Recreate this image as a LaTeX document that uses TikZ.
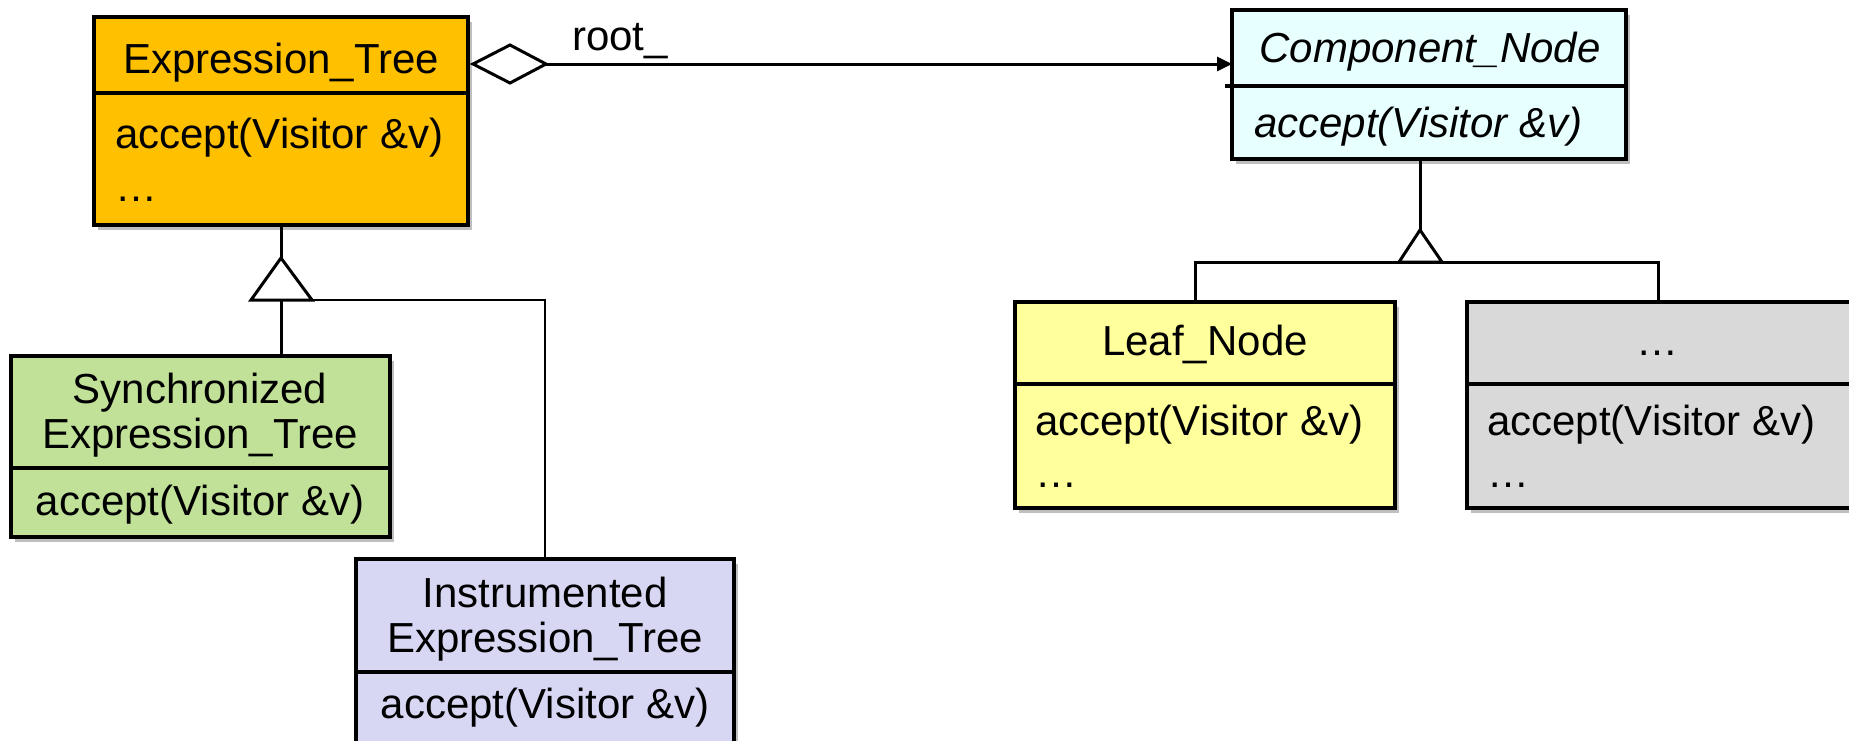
\documentclass[tikz,border=0pt]{standalone}
\usepackage{fontspec}
\setmainfont{Liberation Sans}
\usetikzlibrary{arrows.meta,shadows}
\definecolor{etcol}{RGB}{255,192,0}
\definecolor{synccol}{RGB}{193,225,152}
\definecolor{instcol}{RGB}{215,215,244}
\definecolor{cncol}{RGB}{232,255,255}
\definecolor{leafcol}{RGB}{255,255,155}
\definecolor{othcol}{RGB}{217,217,217}
\begin{document}
\begin{tikzpicture}[x=1pt,y=-1pt,
  cls/.style={draw=black, line width=3.5pt, rectangle, inner sep=0pt, outer sep=0pt, anchor=north west,
    drop shadow={shadow xshift=4pt, shadow yshift=-5pt, opacity=0.25, fill=black}},
  div/.style={line width=3.5pt},
  txt/.style={inner sep=0pt, font=\fontsize{42}{50}\selectfont},
  conn/.style={line width=3pt},
  thin/.style={line width=2pt},
  head/.style={line width=3pt, fill=white, line join=miter}]
\useasboundingbox (0,0) rectangle (1849,740);

% classes
\node[cls, fill=etcol, minimum width=374pt, minimum height=208pt] (et) at (94,17) {};
\draw[div] ([yshift=-76pt]et.north west) -- ([yshift=-76pt]et.north east);
\node[txt, anchor=base] (ett) at (281,73) {Expression\_Tree};
\node[txt, anchor=base west] (eta) at (115,148) {accept(Visitor \&v)};
\node[txt, anchor=base west] (ete) at (115,201) {…};

\node[cls, fill=synccol, minimum width=379pt, minimum height=181pt] (sync) at (11,356) {};
\draw[div] ([yshift=-112pt]sync.north west) -- ([yshift=-112pt]sync.north east);
\node[txt, anchor=base] (syt1) at (200,403) {Synchronized};
\node[txt, anchor=base] (syt2) at (200,448) {Expression\_Tree};
\node[txt, anchor=base] (sya) at (200,515) {accept(Visitor \&v)};

\node[cls, fill=instcol, minimum width=378pt, minimum height=195pt] (inst) at (356,559) {};
\draw[div] ([yshift=-113pt]inst.north west) -- ([yshift=-113pt]inst.north east);
\node[txt, anchor=base] (int1) at (545,607) {Instrumented};
\node[txt, anchor=base] (int2) at (545,652) {Expression\_Tree};
\node[txt, anchor=base] (ina) at (545,718) {accept(Visitor \&v)};

\node[cls, fill=cncol, minimum width=394pt, minimum height=149pt] (cn) at (1232,10) {};
\draw[div] ([xshift=-7pt,yshift=-76pt]cn.north west) -- ([yshift=-76pt]cn.north east);
\node[txt, anchor=base] (cnt) at (1430,62) {\itshape Component\_Node};
\node[txt, anchor=base west] (cna) at (1254,137) {\itshape accept(Visitor \&v)};

\node[cls, fill=leafcol, minimum width=380pt, minimum height=206pt] (leaf) at (1015,302) {};
\draw[div] ([yshift=-82pt]leaf.north west) -- ([yshift=-82pt]leaf.north east);
\node[txt, anchor=base] (lft) at (1205,355) {Leaf\_Node};
\node[txt, anchor=base west] (lfa) at (1035,435) {accept(Visitor \&v)};
\node[txt, anchor=base west] (lfe) at (1035,487) {…};

\node[cls, fill=othcol, minimum width=387pt, minimum height=206pt] (oth) at (1467,302) {};
\draw[div] ([yshift=-82pt]oth.north west) -- ([yshift=-82pt]oth.north east);
\node[txt, anchor=base] (otht) at (1657,355) {…};
\node[txt, anchor=base west] (otha) at (1487,435) {accept(Visitor \&v)};
\node[txt, anchor=base west] (othe) at (1487,487) {…};

% aggregation root_
\coordinate (dl) at (473,64);
\coordinate (dt) at (510,45);
\coordinate (dr) at (546,64);
\coordinate (db) at (510,83);
\draw[head] (dl) -- (dt) -- (dr) -- (db) -- cycle;
\draw[conn, -{Triangle[length=15pt,width=14pt]}] (dr) -- (dr -| cn.west);
\node[txt, anchor=base west] (root) at (572,50) {root\_};

% inheritance of Expression_Tree
\coordinate (etap) at (281,258);
\coordinate (etbl) at (251,300);
\coordinate (etbr) at (312,300);
\coordinate (etbm) at (281,300);
\draw[conn] (et.south) -- (etap);
\draw[conn] (etbm) -- (etbm |- sync.north);
\draw[thin] (etbr) -- (etbr -| inst.north) -- (inst.north);
\draw[head] (etap) -- (etbl) -- (etbr) -- cycle;

% inheritance of Component_Node
\coordinate (cnap) at (1420,230);
\coordinate (cnbl) at (1399,262);
\coordinate (cnbr) at (1442,262);
\coordinate (hl) at (1195,262);
\coordinate (hr) at (1658,262);
\draw[conn] (cnap |- cn.south) -- (cnap);
\draw[conn] (hl |- leaf.north) -- (hl) -- (hr) -- (hr |- oth.north);
\draw[head] (cnap) -- (cnbl) -- (cnbr) -- cycle;
\end{tikzpicture}
\end{document}
